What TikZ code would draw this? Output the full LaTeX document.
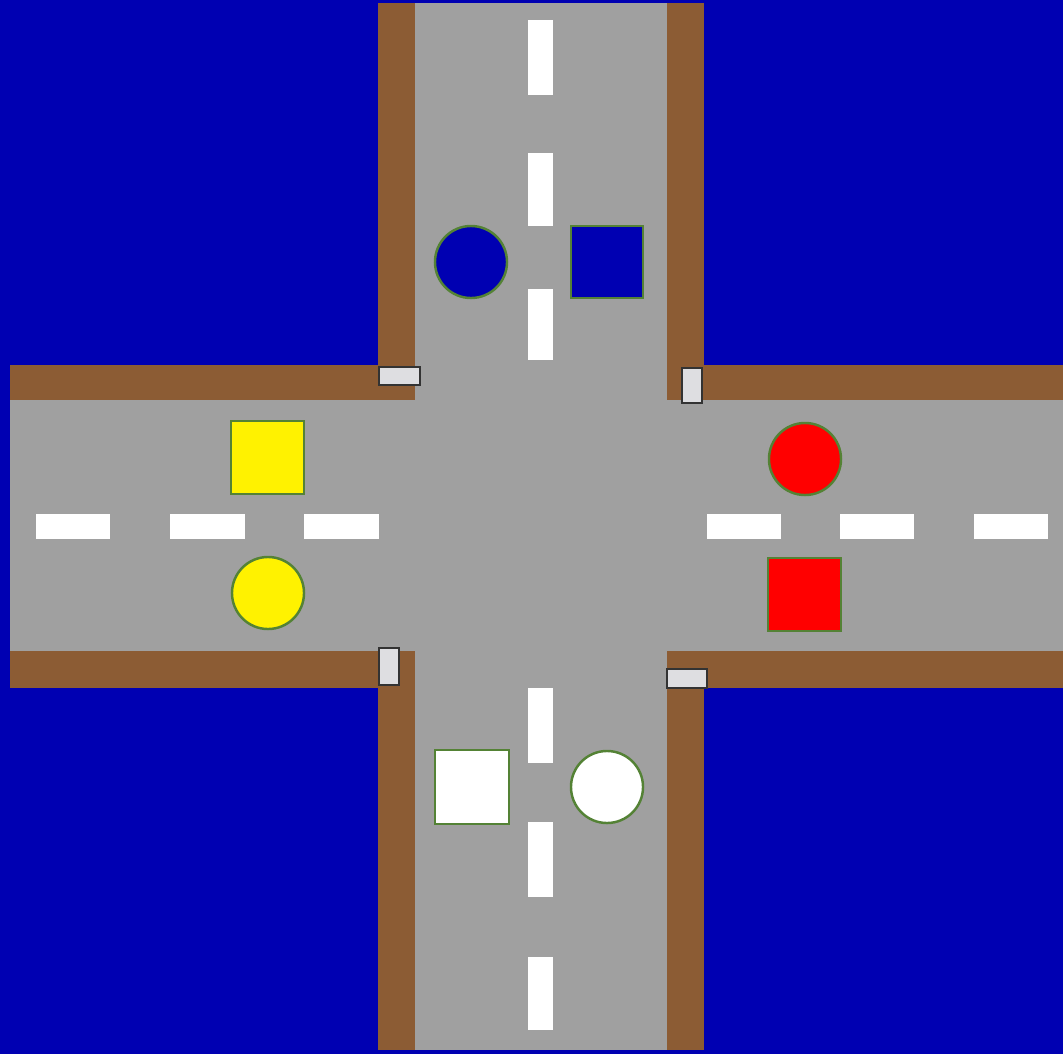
\documentclass[tikz,border=0pt]{standalone}
\usepackage{tikz}

\definecolor{nen}{RGB}{0,0,178}
\definecolor{duong}{RGB}{160,160,160}
\definecolor{le}{RGB}{140,92,52}
\definecolor{vien}{RGB}{84,130,53}
\definecolor{cot}{RGB}{222,222,225}

\tikzset{
  vach/.style={fill=white},
  xe/.style={draw=vien, line width=0.7pt},
  den/.style={fill=cot, draw=black!80, line width=0.6pt}
}

\begin{document}
\begin{tikzpicture}[x=0.01cm, y=-0.01cm]
        % Nền
        \fill[nen] (0,0) rectangle (1063,1054);
        \useasboundingbox (0,0) rectangle (1063,1054);
        % Lề đường (màu nâu)
        \fill[le] (378,3) rectangle (704,1050);
        \fill[le] (10,365) rectangle (1063,688);
        % Mặt đường
        \fill[duong] (415,3) rectangle (667,1050);
        \fill[duong] (10,400) rectangle (1063,651);
        % Vạch kẻ dọc
        \fill[vach] (528,20) rectangle (553,95);
        \fill[vach] (528,153) rectangle (553,226);
        \fill[vach] (528,289) rectangle (553,360);
        \fill[vach] (528,688) rectangle (553,763);
        \fill[vach] (528,822) rectangle (553,897);
        \fill[vach] (528,957) rectangle (553,1030);
        % Vạch kẻ ngang
        \fill[vach] (36,514) rectangle (110,539);
        \fill[vach] (170,514) rectangle (245,539);
        \fill[vach] (304,514) rectangle (379,539);
        \fill[vach] (707,514) rectangle (781,539);
        \fill[vach] (840,514) rectangle (914,539);
        \fill[vach] (974,514) rectangle (1048,539);
        % Cột đèn ở bốn góc
        \draw[den] (379,367) rectangle (420,385);
        \draw[den] (682,368) rectangle (702,403);
        \draw[den] (379,648) rectangle (399,685);
        \draw[den] (667,669) rectangle (707,688);
        % Xe xanh (phía trên)
        \draw[xe, fill=nen] (471,262) circle[radius=0.36cm];
        \draw[xe, fill=nen] (571,226) rectangle (643,298);
        % Xe vàng (bên trái)
        \draw[xe, fill=yellow] (231,421) rectangle (304,494);
        \draw[xe, fill=yellow] (268,593) circle[radius=0.36cm];
        % Xe đỏ (bên phải)
        \draw[xe, fill=red] (805,459) circle[radius=0.36cm];
        \draw[xe, fill=red] (768,558) rectangle (841,631);
        % Xe trắng (phía dưới)
        \draw[xe, fill=white] (435,750) rectangle (509,824);
        \draw[xe, fill=white] (607,787) circle[radius=0.36cm];
    \end{tikzpicture}
\end{document}
